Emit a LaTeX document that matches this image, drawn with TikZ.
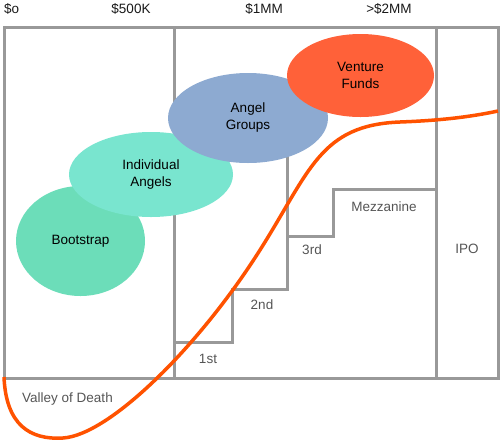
\documentclass[tikz,border=0pt]{standalone}
\usepackage{fontspec}
\setmainfont{Liberation Sans}
\usetikzlibrary{shapes.geometric}
\definecolor{framegray}{HTML}{999999}
\definecolor{labelgray}{HTML}{555555}
\definecolor{valleyred}{HTML}{FF5200}
\definecolor{bootgreen}{HTML}{6CDDB9}
\definecolor{angelteal}{HTML}{79E5CF}
\definecolor{groupblue}{HTML}{8DAAD1}
\definecolor{fundorange}{HTML}{FF6139}

\begin{document}
\begin{tikzpicture}[x=1pt,y=-1pt, frame/.style={draw=framegray, line width=3pt}, stage/.style={shape=ellipse, inner sep=0pt, align=center, text=black, font=\fontsize{13.5}{17}\selectfont}, money/.style={anchor=base, inner sep=0pt, text=black!90, font=\fontsize{13.5}{17}\selectfont}, round/.style={anchor=base, inner sep=0pt, text=labelgray, font=\fontsize{13.5}{17}\selectfont}, valley/.style={draw=valleyred, line width=3.5pt}]
\useasboundingbox (0,0) rectangle (500,440);
% frame and funding rounds
\draw[frame] (4,27) rectangle (498,378);
\draw[frame] (174,27) -- (174,378);
\draw[frame] (436,27) -- (436,378);
\draw[frame] (174,342) -- (232,342) -- (232,289) -- (287,289) -- (287,130);
\draw[frame] (287,236) -- (333,236) -- (333,189) -- (436,189);
% valley of death curve
\draw[valley] (4,377) .. controls (6,425) and (30,440) .. (63,438) .. controls (110,435) and (200,345) .. (260,250) .. controls (310,171) and (320,125) .. (400,122) .. controls (440,120.5) and (470,117) .. (498,111);
% sources of money
\foreach \name/\x/\y/\w/\h/\col/\txt in {boot/80.5/241/129/110/bootgreen/Bootstrap, angels/151/174.5/164/85/angelteal/Individual\\Angels, groups/248/118/160/90/groupblue/Angel\\Groups, funds/360.5/75.5/147/83/fundorange/Venture\\Funds} {
	\node[stage, fill=\col, minimum width=\w, minimum height=\h] (\name) at (\x,\y) {\txt};
}
\foreach \name/\x/\txt in {zero/131/\$500K, one/264/\$1MM, two/389/>\$2MM} {
	\node[money] (m \name) at (\x,13) {\txt};
}
\node[money, anchor=base west] (m start) at (4,13) {\$o};
\foreach \name/\x/\y/\txt in {first/208/363/1st, second/262/309/2nd, third/312/254/3rd, mezz/384/211/Mezzanine, ipo/467/253/IPO, death/67.5/402/Valley of Death} {
	\node[round] (r \name) at (\x,\y) {\txt};
}
\end{tikzpicture}
\end{document}
